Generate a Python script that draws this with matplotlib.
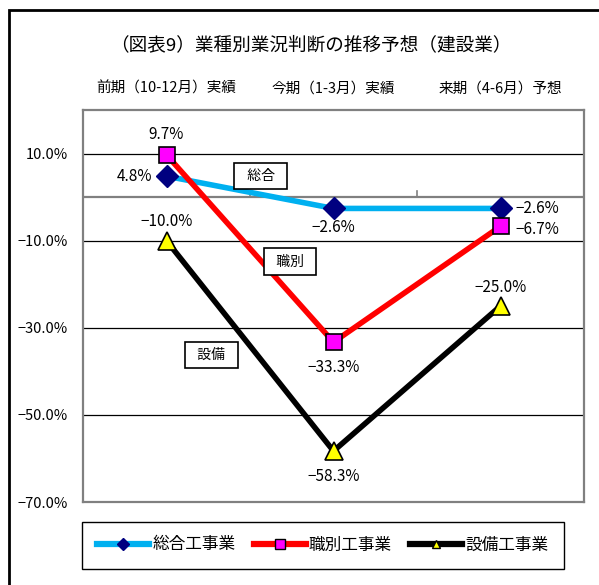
import matplotlib.pyplot as plt
from matplotlib.lines import Line2D
from matplotlib.patches import Rectangle

plt.rcParams['font.family'] = ['Noto Sans CJK JP', 'DejaVu Sans']

# data
periods = ['前期（10-12月）実績', '今期（1-3月）実績', '来期（4-6月）予想']
sogo = [4.8, -2.6, -2.6]
shokubetsu = [9.7, -33.3, -6.7]
setsubi = [-10.0, -58.3, -25.0]
series_names = ['総合工事業', '職別工事業', '設備工事業']
yticks = [10, -10, -30, -50, -70]

fig = plt.figure(figsize=(5.99, 5.85), dpi=100)
ax = fig.add_axes([83 / 599, 1 - 502 / 585, 501 / 599, 392 / 585])

# outer frame
fig.patches.append(Rectangle((9 / 599, -0.1), 1.2, 1 - 10 / 585 + 0.1,
                             transform=fig.transFigure, fill=False,
                             edgecolor='black', linewidth=2))

x = list(range(len(periods)))
ax.set_xlim(-0.5, 2.5)
ax.set_ylim(-70, 20)

for v in yticks[:-1]:
    ax.axhline(v, color='black', linewidth=0.9, zorder=1)
ax.axhline(0, color='#808080', linewidth=1.6, zorder=1)
for b in [0.5, 1.5]:
    ax.plot([b, b], [0, 1.5], color='#808080', linewidth=1.2, zorder=1)

ax.plot(x, sogo, color='#00B0F0', linewidth=4, marker='D', markersize=11,
        markerfacecolor='#000080', markeredgecolor='#000080', zorder=3)
ax.plot(x, shokubetsu, color='#FF0000', linewidth=4, marker='s', markersize=12,
        markerfacecolor='#FF00FF', markeredgecolor='black', markeredgewidth=1.2, zorder=4)
ax.plot(x, setsubi, color='black', linewidth=4, marker='^', markersize=13,
        markerfacecolor='#FFFF00', markeredgecolor='black', markeredgewidth=1.2, zorder=4)


def pct(v):
    return f'{v:.1f}%'.replace('-', '−')


lab = dict(fontsize=11, textcoords='offset points', va='center')
ax.annotate(pct(sogo[0]), (0, sogo[0]), xytext=(-10, 0), ha='right', **lab)
ax.annotate(pct(sogo[1]), (1, sogo[1]), xytext=(0, -14), ha='center', **lab)
ax.annotate(pct(sogo[2]), (2, sogo[2]), xytext=(11, 0), ha='left', **lab)
ax.annotate(pct(shokubetsu[0]), (0, shokubetsu[0]), xytext=(0, 15), ha='center', **lab)
ax.annotate(pct(shokubetsu[1]), (1, shokubetsu[1]), xytext=(0, -18), ha='center', **lab)
ax.annotate(pct(shokubetsu[2]), (2, shokubetsu[2]), xytext=(11, -2), ha='left', **lab)
ax.annotate(pct(setsubi[0]), (0, setsubi[0]), xytext=(0, 14), ha='center', **lab)
ax.annotate(pct(setsubi[1]), (1, setsubi[1]), xytext=(0, -18), ha='center', **lab)
ax.annotate(pct(setsubi[2]), (2, setsubi[2]), xytext=(0, 13), ha='center', **lab)

box = dict(boxstyle='square,pad=0.45', facecolor='white', edgecolor='black', linewidth=1.2)
ax.text(0.565, 4.8, '  総合  ', fontsize=10, ha='center', va='center', bbox=box, zorder=5)
ax.text(0.74, -14.8, '  職別  ', fontsize=10, ha='center', va='center', bbox=box, zorder=5)
ax.text(0.27, -36.2, '  設備  ', fontsize=10, ha='center', va='center', bbox=box, zorder=5)

ax.set_yticks(yticks)
ax.set_yticklabels([pct(v) for v in yticks], fontsize=10.5)
ax.tick_params(axis='y', length=0, pad=11)
ax.set_xticks([])
for s in ax.spines.values():
    s.set_color('#808080')
    s.set_linewidth(1.6)

for i, p in enumerate(periods):
    ax.text(i, 1.055, p, transform=ax.get_xaxis_transform(), ha='center',
            va='center', fontsize=10.5)
fig.text(311 / 599, 1 - 45 / 585, '（図表9）業種別業況判断の推移予想（建設業）',
         ha='center', va='center', fontsize=13.4)

handles = [
    Line2D([], [], color='#00B0F0', linewidth=4.5, marker='D', markersize=6,
           markerfacecolor='#000080', markeredgecolor='#000080'),
    Line2D([], [], color='#FF0000', linewidth=4.5, marker='s', markersize=7,
           markerfacecolor='#FF00FF', markeredgecolor='black'),
    Line2D([], [], color='black', linewidth=4.5, marker='^', markersize=6,
           markerfacecolor='#FFFF00', markeredgecolor='black'),
]
leg = fig.legend(handles, series_names, loc='center',
                 bbox_to_anchor=(323 / 599, 1 - 545 / 585), ncol=3,
                 fontsize=12, handlelength=3.1, handletextpad=0.2,
                 columnspacing=1.1, borderpad=0.9, borderaxespad=0,
                 fancybox=False, edgecolor='black', framealpha=1)
leg.get_frame().set_linewidth(1.0)

fig.savefig('out.png', dpi=100)
